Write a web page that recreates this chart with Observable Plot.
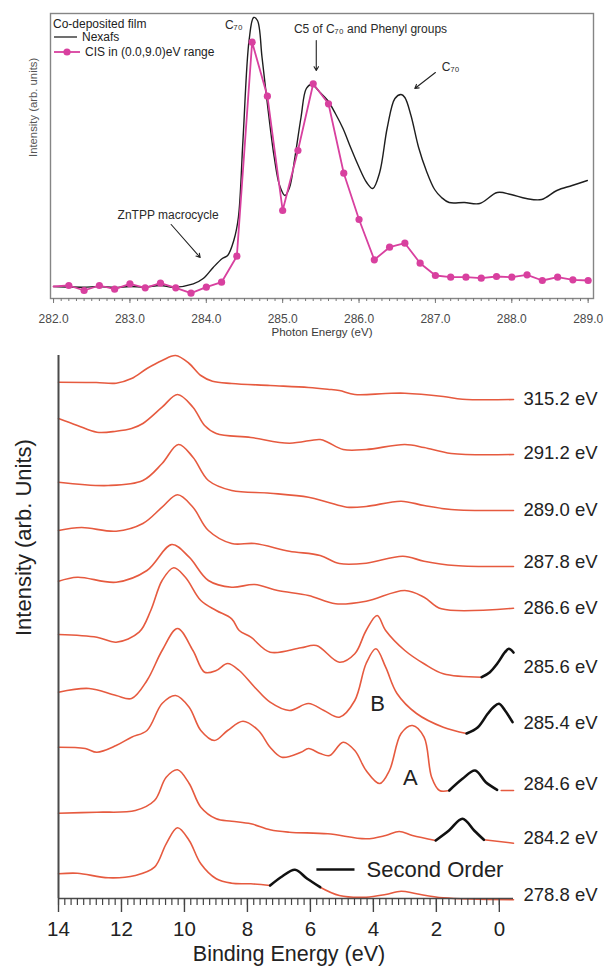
<!DOCTYPE html>
<html><head><meta charset="utf-8">
<script src="https://cdn.jsdelivr.net/npm/d3@7"></script>
<script src="https://cdn.jsdelivr.net/npm/@observablehq/plot@0.6"></script>
<style>
html,body{margin:0;padding:0;background:#fff;}
#chart{width:604px;height:969px;position:relative;overflow:hidden;background:#fff}
#chart svg{display:block}
</style></head><body><div id="chart"></div>
<script>
// ---------- TOP PANEL DATA (photon energy eV, intensity arb.) ----------
const photonTicks = [282, 283, 284, 285, 286, 287, 288, 289];
const nexafs = [[282.0,12],[282.2,11.5],[282.4,11.3],[282.6,12],[282.8,11],[283.0,12],[283.2,11.5],[283.4,13],[283.57,11.3],[283.83,14.7],[283.96,20],[284.09,31],[284.21,40],[284.28,43],[284.36,58],[284.42,81],[284.48,158],[284.56,258],[284.62,281],[284.67,278],[284.73,241],[284.81,188],[284.89,141],[284.96,113],[285.03,103],[285.09,111],[285.16,141],[285.24,181],[285.31,210],[285.38,214],[285.49,206],[285.59,198],[285.69,185],[285.79,170],[285.89,151],[285.99,133],[286.10,116],[286.18,110],[286.27,126],[286.37,171],[286.47,200],[286.55,204],[286.60,201],[286.68,183],[286.78,151],[286.88,128],[286.99,109],[287.08,101],[287.18,96],[287.38,96],[287.58,95],[287.81,106],[287.99,104],[288.19,100],[288.39,99],[288.59,108],[288.79,113],[288.99,118]];
const cis = [[282.0,12],[282.2,13],[282.4,8],[282.6,13],[282.8,9.3],[283.0,14.7],[283.2,10.7],[283.4,15.3],[283.6,10.7],[283.8,5.3],[284.0,11.3],[284.2,16.3],[284.4,42.3],[284.6,256.3],[284.8,202.3],[285.0,88],[285.2,148],[285.4,214.7],[285.6,194.7],[285.8,125.3],[286.0,79],[286.2,38.7],[286.4,51.3],[286.6,55.3],[286.8,35.3],[287.0,23],[287.2,21.3],[287.4,21.3],[287.6,20.3],[287.8,22],[288.0,21.3],[288.2,23.7],[288.4,18],[288.6,21.3],[288.8,18.7],[289.0,18]];
const legendTitle = "Co-deposited film";
const legendNames = ["Nexafs", "CIS in (0.0,9.0)eV range"];
const topNotes = [
  {pe: 284.36, v: 273, text: "C\u2087\u2080"},
  {pe: 286.15, v: 269, text: "C5 of C\u2087\u2080 and Phenyl groups"},
  {pe: 287.20, v: 231, text: "C\u2087\u2080"},
  {pe: 283.50, v: 83, text: "ZnTPP macrocycle"}
];
const topArrows = [
  {pe1: 285.44, v1: 258, pe2: 285.44, v2: 228},
  {pe1: 287.00, v1: 226, pe2: 286.73, v2: 210},
  {pe1: 283.54, v1: 74, pe2: 283.92, v2: 41}
];

// ---------- BOTTOM PANEL DATA (binding energy eV, intensity arb.) ----------
const bindingTicks = [14, 12, 10, 8, 6, 4, 2, 0];
const spectrumLabels = ["315.2 eV","291.2 eV","289.0 eV","287.8 eV","286.6 eV","285.6 eV","285.4 eV","284.6 eV","284.2 eV","278.8 eV"];
const spectrumOffsets = [499, 445, 388, 336, 290, 231, 175, 114, 60, 3];
const s315_2 = [[14.0,17.3],[12.8,17],[12.17,16.3],[11.68,21],[11.19,31],[10.71,39],[10.28,44],[9.85,36],[9.48,24],[9.11,18.3],[8.5,16],[7.28,14],[6.06,12],[5.45,10.3],[5.08,9],[4.59,5],[3.61,6],[3.0,6.3],[1.78,3],[1.17,0.3],[-0.45,0]];
const s291_2 = [[14.0,35],[13.4,28],[12.78,21.3],[12.17,22.3],[11.68,25],[11.32,30],[10.71,46.3],[10.22,59],[9.73,46.3],[9.36,28],[8.99,20],[7.89,16],[6.67,10.3],[5.69,14],[5.45,11.3],[4.96,4],[4.23,4],[3.0,9],[2.39,6],[1.53,0],[-0.45,-1]];
const s289_0 = [[14.0,28.3],[12.42,25],[11.32,30],[10.71,47],[10.19,66],[9.73,53.3],[9.24,30],[8.5,20],[7.28,17.3],[6.06,13.3],[5.45,8.3],[4.84,3.3],[4.23,4],[3.12,9.3],[2.39,5],[1.53,1],[-0.45,0]];
const s287_8 = [[14.0,32],[13.27,35],[12.17,31.3],[11.32,39],[10.71,55.3],[10.22,67.7],[9.73,55.3],[9.24,32],[8.5,19],[7.77,19],[6.67,11.3],[5.69,7],[5.08,-1],[4.23,-0.7],[3.06,6.3],[2.39,1.3],[1.41,-3],[-0.45,-4]];
const s286_6 = [[14.0,27.3],[13.4,31.3],[12.17,26.3],[11.19,38],[10.4,64],[9.85,51.3],[9.24,28],[8.5,21.3],[7.77,24],[7.04,18],[6.06,13],[5.2,4.7],[4.23,7.3],[3.0,18],[2.39,11.3],[1.84,-0.3],[-0.45,0.3]];
const s285_6 = [[14.0,33],[12.78,30.3],[12.17,25.3],[11.44,35.3],[11.07,57],[10.71,87],[10.34,99.7],[9.97,90.3],[9.48,67],[8.99,57],[8.5,48.7],[8.26,37],[7.89,30.3],[7.28,15.3],[6.3,19.7],[5.81,22],[5.08,5.3],[4.59,13.7],[4.23,37],[3.88,52],[3.61,37],[3.0,17],[2.39,3.7],[1.78,-6.3],[0.56,-9.7]];
const s285_4 = [[14.0,31.3],[13.03,35],[12.17,28],[11.68,25],[11.19,43],[10.71,73],[10.22,95],[9.73,73],[9.36,51.3],[8.99,53],[8.63,60],[8.26,53],[7.77,36.3],[7.28,21.3],[6.67,13],[6.06,20],[5.57,13],[5.08,6.3],[4.59,23],[4.23,60],[3.92,74.7],[3.61,56.3],[3.25,30],[2.63,10],[1.78,-3.7],[1.04,-10]];
const s284_6 = [[14.0,37.3],[13.15,36],[12.78,32.3],[12.17,39],[11.68,47.3],[11.19,54],[10.71,81],[10.28,89],[9.85,77.3],[9.48,54],[9.05,44],[8.63,54],[8.14,63.3],[7.65,54],[7.28,37.3],[6.91,27.3],[6.3,32.3],[6.06,36],[5.69,31],[5.39,29],[4.96,42.3],[4.59,34],[4.23,14],[3.8,1],[3.49,14],[3.12,51],[2.76,59],[2.39,47.3],[2.15,7.3],[1.9,-6],[1.59,-6]];
const s284_2 = [[14.0,25.3],[12.78,26.3],[11.56,28],[10.95,38],[10.58,61.3],[10.22,68.7],[9.85,55],[9.48,31.3],[8.99,19.7],[8.5,17.3],[7.89,14.7],[7.28,8.7],[6.67,6.3],[5.45,4.7],[4.23,-0.3],[3.61,3],[3.18,7],[2.76,3],[2.02,-2]];
const s278_8 = [[14.0,21.7],[13.4,22.3],[12.42,17.7],[11.56,20],[10.95,28.3],[10.58,51.7],[10.22,67.7],[9.85,55],[9.48,31.7],[8.99,16.7],[8.5,12.3],[7.89,11.7],[7.28,10]];
// second-order (black) segments
const second285_6 = [[0.56,-9.7],[0.3,-4.7],[0.07,3.7],[-0.18,15.3],[-0.3,18.7],[-0.45,15]];
const second285_4 = [[1.04,-10],[0.68,-3.7],[0.37,9.7],[0.19,16.3],[0.01,19.7],[-0.18,13],[-0.42,1.3]];
const second284_6 = [[1.59,-6],[1.17,5.7],[0.77,14],[0.43,2.3],[0.07,-5.3]];
const second284_2 = [[2.02,-2],[1.6,8],[1.17,19.7],[0.8,8],[0.49,-1.3]];
const second278_8 = [[7.28,10],[6.9,19],[6.49,25.7],[6.1,16.7],[5.69,8.3]];
// orange tails after the second-order parts
const tail284_6 = [[-0.06,-6],[-0.45,-6]];
const tail284_2 = [[0.49,-1.3],[-0.45,-4.7]];
const tail278_8 = [[5.69,8.3],[5.08,0],[4.23,-1.7],[3.61,1],[3.12,4.3],[2.63,1.7],[1.78,-2.3],[-0.45,-4.3]];
const peakLetters = [{be: 3.87, v: 195, text: "B"}, {be: 2.83, v: 121, text: "A"}];
const secondOrderKey = {be1: 5.81, be2: 4.60, v: 29, text: "Second Order"};

// ---------- BUILD ----------
const FONT = "'Liberation Sans', Arial, Helvetica, sans-serif";
const PINK = "#d8409f";
const ORANGE = "#e65a3f";
const TOP = {width: 604, height: 345, marginLeft: 50, marginRight: 11, marginTop: 13, marginBottom: 47};
const BOT = {width: 604, height: 624, marginLeft: 58, marginRight: 91, marginTop: 10, marginBottom: 71};

const nexRows = nexafs.map(([pe, v]) => ({pe, v}));
const cisRows = cis.map(([pe, v]) => ({pe, v}));

function topLegend() {
  const g = d3.create("svg:g").attr("font-family", FONT).attr("font-size", 12).attr("fill", "#222").attr("text-anchor", "start");
  const x0 = TOP.marginLeft, y0 = TOP.marginTop;
  g.append("text").attr("text-anchor", "start").attr("x", x0 + 3).attr("y", y0 + 11).attr("dy", "0.35em").text(legendTitle);
  g.append("line").attr("x1", x0 + 4).attr("x2", x0 + 27).attr("y1", y0 + 24).attr("y2", y0 + 24).attr("stroke", "#222").attr("stroke-width", 1.3);
  g.append("text").attr("text-anchor", "start").attr("x", x0 + 32).attr("y", y0 + 24).attr("dy", "0.35em").text(legendNames[0]);
  g.append("line").attr("x1", x0 + 4).attr("x2", x0 + 30).attr("y1", y0 + 39).attr("y2", y0 + 39).attr("stroke", PINK).attr("stroke-width", 1.8);
  g.append("circle").attr("cx", x0 + 17).attr("cy", y0 + 39).attr("r", 3.6).attr("fill", PINK);
  g.append("text").attr("text-anchor", "start").attr("x", x0 + 35).attr("y", y0 + 39).attr("dy", "0.35em").text(legendNames[1]);
  return g.node();
}

const topPlot = Plot.plot({
  ...TOP,
  style: {fontFamily: FONT, background: "white", overflow: "visible"},
  x: {domain: [281.96, 289.07]},
  y: {domain: [0, 285], axis: null},
  marks: [
    Plot.frame({stroke: "#858585", strokeWidth: 1.4}),
    Plot.axisX(d3.range(282, 289.05, 0.1), {tickSize: 3, tickFormat: () => "", stroke: "#777", label: null}),
    Plot.axisX(photonTicks, {tickSize: 5, tickPadding: 11, tickFormat: d => d.toFixed(1), fontSize: 12, fill: "#4a4a4a", stroke: "#777", label: null}),
    Plot.text(["Photon Energy (eV)"], {text: d => d, frameAnchor: "bottom", dy: 37, fontSize: 11.5, fill: "#3a3a3a"}),
    Plot.text(["Intensity (arb. units)"], {text: d => d, frameAnchor: "left", rotate: -90, dx: -17, dy: 1, fontSize: 11.3, fill: "#555"}),
    Plot.line(nexRows, {x: "pe", y: "v", stroke: "#1e1e1e", strokeWidth: 1.4, curve: "catmull-rom"}),
    Plot.line(cisRows, {x: "pe", y: "v", stroke: PINK, strokeWidth: 1.8}),
    Plot.dot(cisRows, {x: "pe", y: "v", r: 3.6, fill: PINK, filter: d => d.pe > 282.05}),
    Plot.arrow(topArrows, {x1: "pe1", y1: "v1", x2: "pe2", y2: "v2", stroke: "#222", strokeWidth: 1.1, headLength: 6}),
    Plot.text(topNotes, {x: "pe", y: "v", text: "text", fontSize: 12, fill: "#2a2a2a"}),
    topLegend
  ]
});

// bottom rows
const mainSets = [s315_2, s291_2, s289_0, s287_8, s286_6, s285_6, s285_4, s284_6, s284_2, s278_8];
const secondSets = {5: second285_6, 6: second285_4, 7: second284_6, 8: second284_2, 9: second278_8};
const tailSets = {7: tail284_6, 8: tail284_2, 9: tail278_8};
const orangeRows = [], blackRows = [];
mainSets.forEach((arr, i) => {
  arr.forEach(([be, r]) => orangeRows.push({be, v: spectrumOffsets[i] + r, key: spectrumLabels[i] + "-m"}));
  if (tailSets[i]) tailSets[i].forEach(([be, r]) => orangeRows.push({be, v: spectrumOffsets[i] + r, key: spectrumLabels[i] + "-t"}));
  if (secondSets[i]) secondSets[i].forEach(([be, r]) => blackRows.push({be, v: spectrumOffsets[i] + r, key: spectrumLabels[i] + "-s"}));
});
const labelRows = spectrumLabels.map((t, i) => ({t, v: spectrumOffsets[i]}));

const bottomPlot = Plot.plot({
  ...BOT,
  style: {fontFamily: FONT, background: "white", overflow: "visible"},
  x: {domain: [14, -0.45]},
  y: {domain: [0, 543], axis: null},
  marks: [
    Plot.line(orangeRows, {x: "be", y: "v", z: "key", stroke: ORANGE, strokeWidth: 1.6, curve: "catmull-rom"}),
    Plot.line(blackRows, {x: "be", y: "v", z: "key", stroke: "#111", strokeWidth: 2.6, curve: "catmull-rom"}),
    Plot.ruleX([14], {stroke: "#4a4a4a", strokeWidth: 2}),
    Plot.ruleY([0], {stroke: "#4a4a4a", strokeWidth: 1.6}),
    Plot.axisX(d3.range(0, 14.01, 0.2), {tickSize: 7, tickFormat: () => "", stroke: "#444", strokeWidth: 1.2, label: null}),
    Plot.axisX(bindingTicks, {tickSize: 14, tickPadding: 9, fontSize: 20.5, fill: "#222", stroke: "#444", strokeWidth: 1.4, label: null}),
    Plot.text(["Binding Energy (eV)"], {text: d => d, frameAnchor: "bottom", dy: 62, dx: 3, fontSize: 21.5, fill: "#222"}),
    Plot.text(["Intensity (arb. Units)"], {text: d => d, frameAnchor: "left", rotate: -90, dx: -35, dy: 9, fontSize: 22, fill: "#222"}),
    Plot.text(labelRows, {y: "v", text: "t", frameAnchor: "right", textAnchor: "start", dx: 10, fontSize: 18.5, fill: "#222"}),
    Plot.text(peakLetters, {x: "be", y: "v", text: "text", fontSize: 22, fill: "#222"}),
    Plot.link([secondOrderKey], {x1: "be1", x2: "be2", y1: "v", y2: "v", stroke: "#111", strokeWidth: 2.6}),
    Plot.text([secondOrderKey], {x: "be2", y: "v", text: "text", textAnchor: "start", dx: 12, fontSize: 22, fill: "#222"})
  ]
});

const root = document.getElementById("chart");
root.appendChild(topPlot);
root.appendChild(bottomPlot);
</script></body></html>
